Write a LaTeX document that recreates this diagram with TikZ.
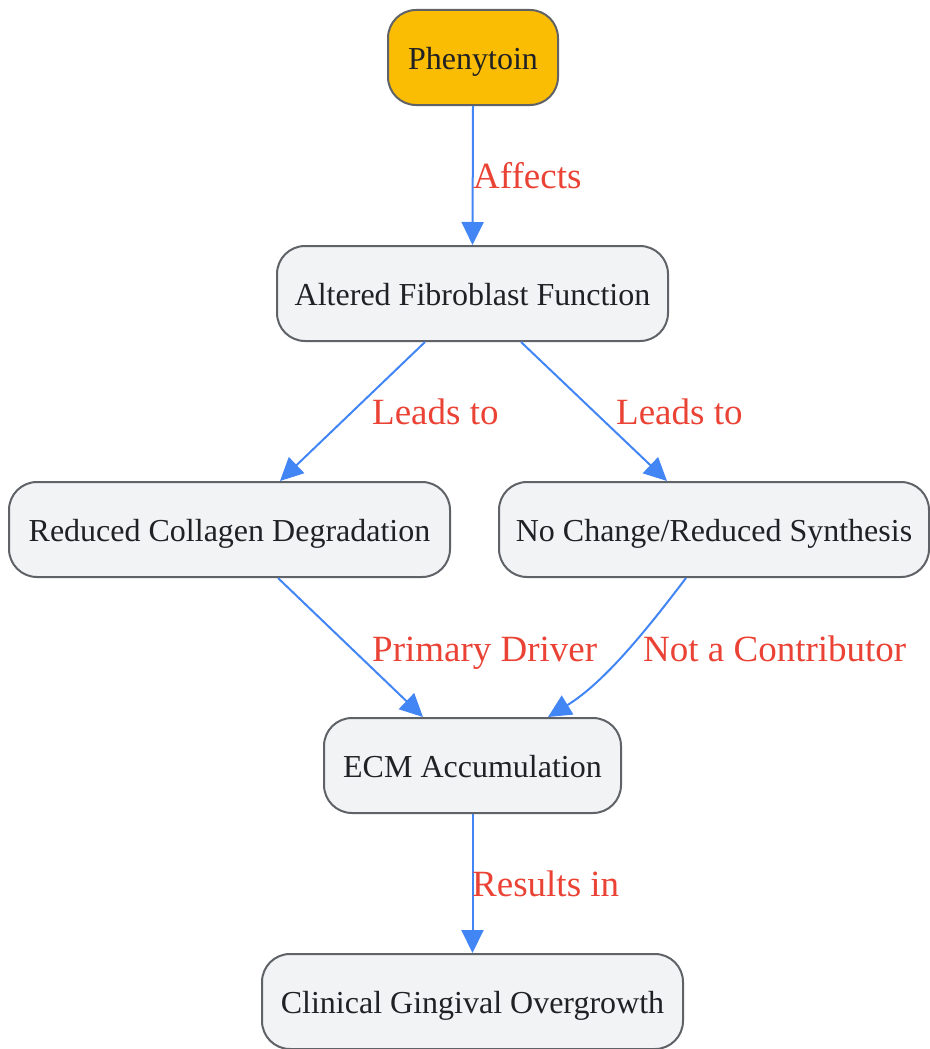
\documentclass[tikz,border=0pt]{standalone}
\usepackage{fontspec}
\setmainfont{Liberation Serif}
\usetikzlibrary{arrows.meta}
\definecolor{nodefill}{HTML}{F1F3F4}
\definecolor{nodeline}{HTML}{5F6368}
\definecolor{nodetext}{HTML}{202124}
\definecolor{startfill}{HTML}{FBBC04}
\definecolor{edgeblue}{HTML}{4285F4}
\definecolor{lblred}{HTML}{EA4335}
\tikzset{
  box/.style={draw=nodeline, fill=nodefill, line width=2pt, rounded corners=28pt,
    minimum height=95pt, inner sep=0pt, text=nodetext, text height=24pt, text depth=0pt,
    font=\fontsize{32}{38}\selectfont},
  startbox/.style={box, fill=startfill},
  conn/.style={draw=edgeblue, line width=2pt, -{Triangle[length=23pt,width=22pt]}},
  lbl/.style={text=lblred, anchor=base west, inner sep=0pt, font=\fontsize{37}{43}\selectfont}
}
\begin{document}
\begin{tikzpicture}[x=1pt,y=-1pt]
\useasboundingbox (0,0) rectangle (929,1049);
\node[startbox, minimum width=170pt] (phe) at (473,57.5) {Phenytoin};
\node[box, minimum width=391pt] (alt) at (472.5,293.5) {Altered Fibroblast Function};
\node[box, minimum width=441pt] (rcd) at (229.5,529.5) {Reduced Collagen Degradation};
\node[box, minimum width=430pt] (ncr) at (714,529.5) {No Change/Reduced Synthesis};
\node[box, minimum width=297pt] (ecm) at (472.5,765.5) {ECM Accumulation};
\node[box, minimum width=421pt] (cgo) at (472.5,1001.5) {Clinical Gingival Overgrowth};

\draw[conn] (phe.south) -- (alt.north);
\draw[conn] ([xshift=-47.5pt]alt.south) -- ([xshift=50.5pt]rcd.north);
\draw[conn] ([xshift=48.5pt]alt.south) -- ([xshift=-47pt]ncr.north);
\draw[conn] ([xshift=48.5pt]rcd.south) -- ([xshift=-49.5pt]ecm.north);
\draw[conn] ([xshift=-28pt]ncr.south) .. controls (648,628) and (605,682) .. ([xshift=75.5pt]ecm.north);
\draw[conn] (ecm.south) -- (cgo.north);

\node[lbl] (l1) at (473,188) {Affects};
\node[lbl] (l2) at (372,424) {Leads to};
\node[lbl] (l3) at (616,424) {Leads to};
\node[lbl] (l4) at (372,661) {Primary Driver};
\node[lbl] (l5) at (643,661) {Not a Contributor};
\node[lbl] (l6) at (472,896) {Results in};
\end{tikzpicture}
\end{document}
